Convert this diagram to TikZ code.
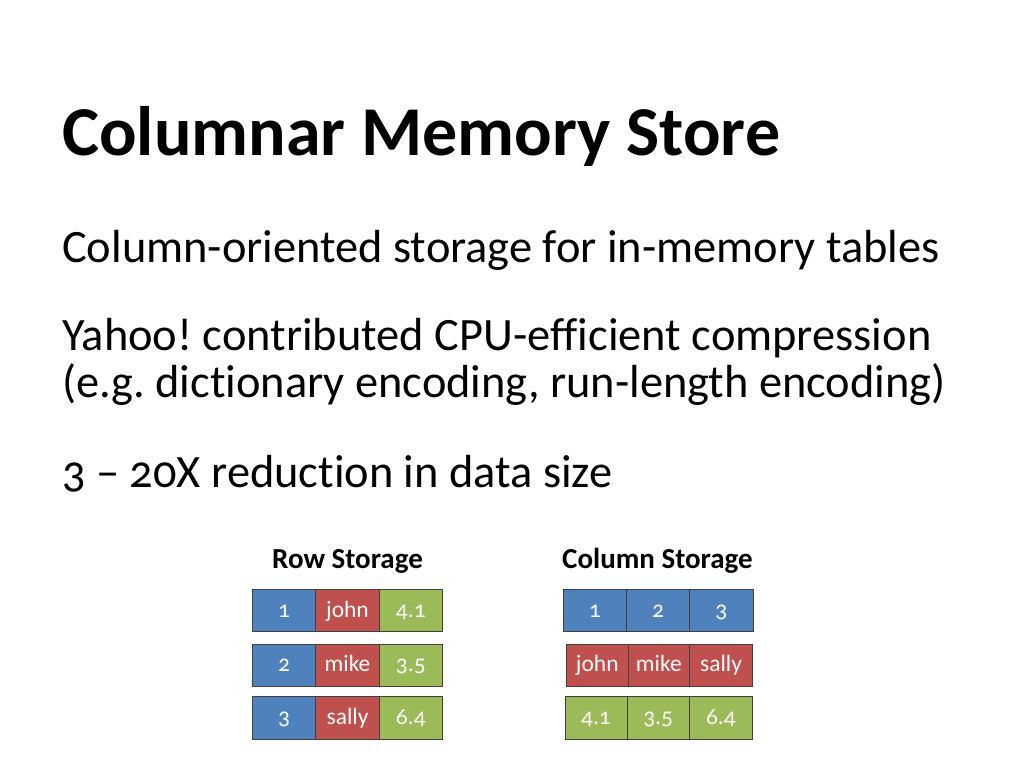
\documentclass[tikz,border=0pt]{standalone}
\usepackage{fontspec}
\setmainfont{Carlito}[Numbers=OldStyle, Ligatures=NoCommon]
\usetikzlibrary{positioning}
\frenchspacing

\tikzset{
    cell/.style={draw=black!75, line width=0.8pt, outer sep=0pt, inner sep=0pt,
        minimum width=63.3pt, minimum height=42.4pt, text=white,
        text height=17pt, text depth=4pt,
        font=\fontsize{23.5}{25}\selectfont},
    idcell/.style={cell, fill=idblue},
    namecell/.style={cell, fill=namered},
    valcell/.style={cell, fill=valgreen},
    heading/.style={anchor=base west, inner sep=0pt, font=\fontsize{29}{32}\selectfont\bfseries},
    bullet/.style={anchor=base west, inner sep=0pt, font=\fontsize{46.4}{50}\selectfont}
}
\definecolor{idblue}{HTML}{4F81BD}
\definecolor{namered}{HTML}{C0504D}
\definecolor{valgreen}{HTML}{9BBB59}

\begin{document}
\begin{tikzpicture}[x=1pt, y=-1pt]
    \useasboundingbox (0,0) rectangle (1024,768);

    \node[anchor=base west, inner sep=0pt, font=\fontsize{70}{74}\selectfont\bfseries]
        (title) at (62,155) {Columnar Memory Store};

    \node[bullet] (pointa) at (62,262) {Column-oriented storage for in-memory tables};
    \node[bullet] (pointb) at (62,350) {Yahoo! contributed CPU-efficient compression};
    \node[bullet] (pointc) at (62,397) {(e.g. dictionary encoding, run-length encoding)};
    \node[bullet] (pointd) at (62,487) {3 -- 20X reduction in data size};

    % row storage
    \node[heading] (rowhead) at (272,568) {Row Storage};
    \node[idcell] (r1a) at (284.2,610.5) {1};
    \node[namecell, right=0pt of r1a] (r1b) {john};
    \node[valcell, right=0pt of r1b] (r1c) {4.1};
    \node[idcell] (r2a) at (284.2,665.2) {2};
    \node[namecell, right=0pt of r2a] (r2b) {mike};
    \node[valcell, right=0pt of r2b] (r2c) {3.5};
    \node[idcell] (r3a) at (284.2,718) {3};
    \node[namecell, right=0pt of r3a] (r3b) {sally};
    \node[valcell, right=0pt of r3b] (r3c) {6.4};

    % column storage
    \node[heading] (colhead) at (562,568) {Column Storage};
    \node[idcell] (c1a) at (594.8,610.5) {1};
    \node[idcell, right=0pt of c1a] (c1b) {2};
    \node[idcell, right=0pt of c1b] (c1c) {3};
    \node[namecell, minimum width=62.1pt] (c2a) at (597.3,665.2) {john};
    \node[namecell, minimum width=61pt, right=0pt of c2a] (c2b) {mike};
    \node[namecell, right=0pt of c2b] (c2c) {sally};
    \node[valcell, minimum width=62pt] (c3a) at (596,718) {4.1};
    \node[valcell, minimum width=62.3pt, right=0pt of c3a] (c3b) {3.5};
    \node[valcell, right=0pt of c3b] (c3c) {6.4};
\end{tikzpicture}
\end{document}
